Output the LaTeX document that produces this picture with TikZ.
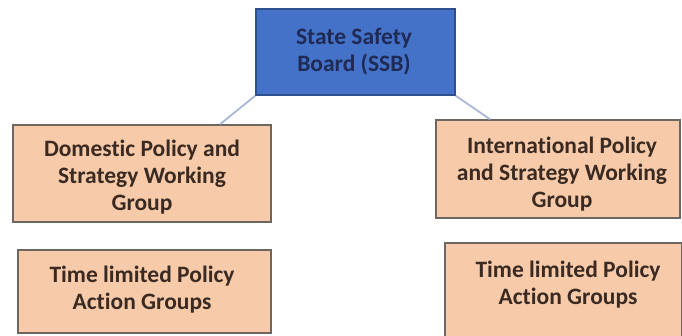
\documentclass[tikz,border=0pt]{standalone}
\usepackage{fontspec}
\setmainfont{Carlito}[BoldFont={Carlito Bold}, Ligatures={NoCommon}]
\definecolor{ssbfill}{HTML}{4472C8}
\definecolor{ssbdraw}{HTML}{2F4F8F}
\definecolor{ssbtext}{HTML}{1F2A55}
\definecolor{orfill}{HTML}{F7CBAA}
\definecolor{ordraw}{HTML}{6E6660}
\definecolor{ortext}{HTML}{3A2A22}
\definecolor{linkc}{HTML}{A9B8D6}
\tikzset{
  boxfont/.style={font=\fontsize{23.5}{27}\selectfont\bfseries},
  ssbbox/.style={draw=ssbdraw, fill=ssbfill, line width=1.5pt, text=ssbtext, align=center, boxfont, inner sep=0pt},
  grpbox/.style={draw=ordraw, fill=orfill, line width=1.5pt, text=ortext, align=center, boxfont, inner sep=0pt},
  boxtext/.style={text=ortext, align=center, boxfont, inner sep=0pt},
  link/.style={draw=linkc, line width=1.8pt}
}
\begin{document}
\begin{tikzpicture}[x=1pt,y=-1pt]
\useasboundingbox (0,0) rectangle (682,335);
\node[ssbbox, minimum width=199pt, minimum height=86pt] (ssb) at (355.5,52) {};
\node[text=ssbtext, align=center, boxfont, inner sep=0pt] (ssbt) at (354,52) {State Safety\\Board (SSB)};
\node[grpbox, minimum width=258pt, minimum height=97pt] (l1) at (142,173.5) {};
\node[boxtext] (l1t) at (142,177) {Domestic Policy and\\Strategy Working\\Group};
\node[grpbox, minimum width=253pt, minimum height=83pt] (l2) at (144.5,291.5) {};
\node[boxtext] (l2t) at (142,290) {Time limited Policy\\Action Groups};
\node[grpbox, minimum width=244pt, minimum height=98pt] (r1) at (558,169) {};
\node[boxtext] (r1t) at (562,174) {International Policy\\and Strategy Working\\Group};
\node[grpbox, minimum width=237pt, minimum height=94pt] (r2) at (563.5,290) {};
\node[boxtext] (r2t) at (568,285) {Time limited Policy\\Action Groups};
\draw[link] (ssb.south west) -- ([xshift=78pt]l1.north);
\draw[link] (ssb.south east) -- ([xshift=-68pt]r1.north);
\end{tikzpicture}
\end{document}
